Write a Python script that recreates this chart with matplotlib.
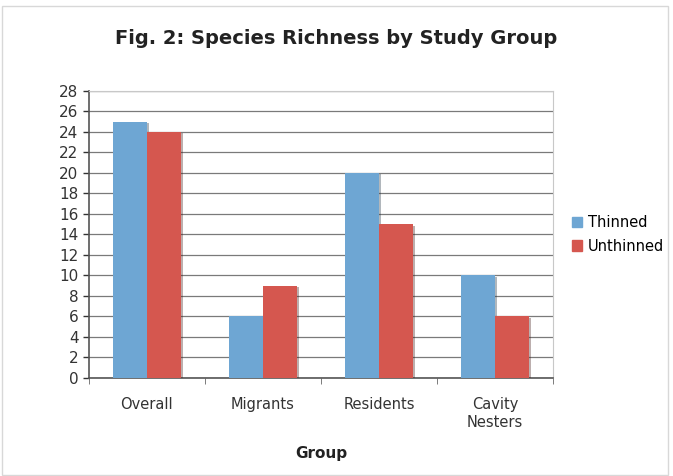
import matplotlib
matplotlib.use("Agg")
import matplotlib.pyplot as plt
import matplotlib.patheffects as pe
from matplotlib.patches import Rectangle, Patch
import numpy as np

groups = ["Overall", "Migrants", "Residents", "Cavity\nNesters"]
thinned = [25, 6, 20, 10]
unthinned = [24, 9, 15, 6]
blue, red = "#6ea6d3", "#d5574f"

plt.rcParams['font.family'] = ['DejaVu Sans']

fig = plt.figure(figsize=(6.73, 4.76), dpi=100)
ax = fig.add_axes([0.132, 0.206, 0.690, 0.603])

x = np.arange(len(groups))
w = 0.29
shadow = [pe.SimplePatchShadow(offset=(1.5, -1), alpha=0.35), pe.Normal()]
b1 = ax.bar(x - w/2, thinned, w, color=blue, zorder=3)
b2 = ax.bar(x + w/2, unthinned, w, color=red, zorder=3)
for b in list(b1) + list(b2):
    b.set_path_effects(shadow)

ax.set_xlim(-0.5, len(groups) - 0.5)
ax.set_ylim(0, 28)
ax.set_yticks(range(0, 29, 2))
ax.set_xticks(x)
ax.set_xticklabels(groups, fontsize=10.5, color="#333333")
ax.tick_params(axis="y", labelsize=11, colors="#333333", length=4, width=1, direction="out")
ax.tick_params(axis="x", length=0, pad=14)
# small ticks between categories
ax.set_xticks(np.arange(-0.5, len(groups)), minor=True)
ax.tick_params(axis="x", which="minor", length=4, color="#666666")

ax.yaxis.grid(True, color="#7a7a7a", linewidth=0.9, zorder=0)
ax.set_axisbelow(True)
for s in ["top", "right"]:
    ax.spines[s].set_color("#c8c8c8")
for s in ["left", "bottom"]:
    ax.spines[s].set_color("#555555")
    ax.spines[s].set_linewidth(1.2)

ax.set_xlabel("Group", fontsize=11, fontweight="bold", color="#222222", labelpad=12)
fig.suptitle("Fig. 2: Species Richness by Study Group", fontsize=14, fontweight="bold",
             color="#222222", y=0.94)

handles = [Patch(color=blue, label="Thinned"), Patch(color=red, label="Unthinned")]
fig.legend(handles=handles, loc="center left", bbox_to_anchor=(0.83, 0.508),
           frameon=False, fontsize=10.5, handlelength=0.7, handleheight=0.7,
           handletextpad=0.4, labelspacing=0.6)

fig.patches.append(Rectangle((0.003, 0.003), 0.99, 0.985, transform=fig.transFigure,
                             fill=False, edgecolor="#d8d8d8", linewidth=1))

fig.savefig("out.png", dpi=100)
